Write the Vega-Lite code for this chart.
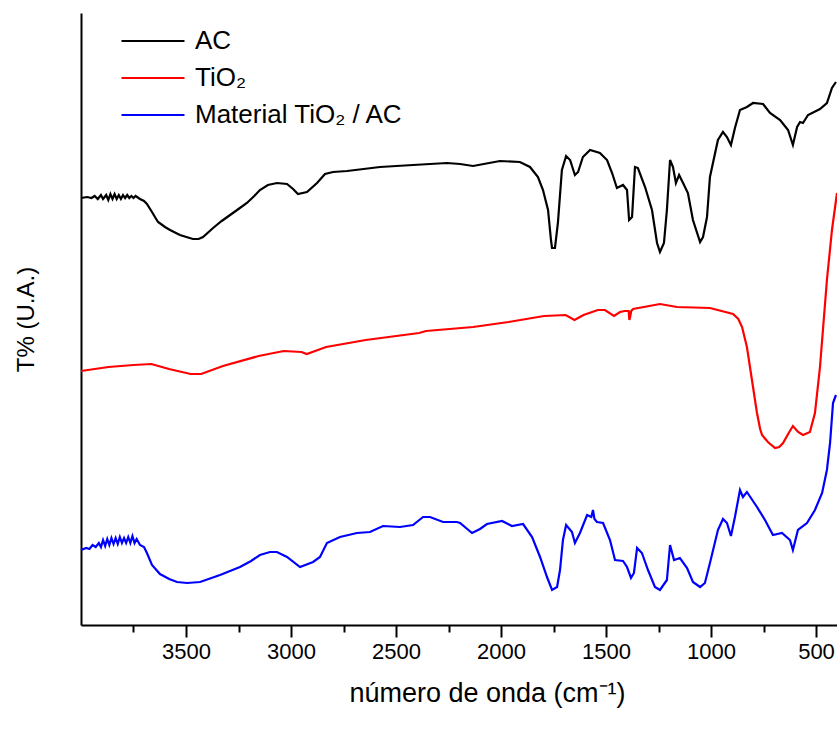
{
  "$schema": "https://vega.github.io/schema/vega-lite/v6.json",
  "width": 756,
  "height": 612,
  "autosize": {"type": "none"},
  "padding": {"left": 81, "top": 13, "right": 0, "bottom": 106},
  "config": {
    "view": {"stroke": null},
    "font": "Liberation Sans"
  },
  "data": {
    "values": [
      {"s": "AC", "wn": 4000, "t": 427}, {"s": "AC", "wn": 3970, "t": 428}, {"s": "AC", "wn": 3950, "t": 427}, {"s": "AC", "wn": 3935, "t": 429},
      {"s": "AC", "wn": 3920, "t": 426}, {"s": "AC", "wn": 3905, "t": 430}, {"s": "AC", "wn": 3895, "t": 426}, {"s": "AC", "wn": 3880, "t": 430},
      {"s": "AC", "wn": 3870, "t": 425}, {"s": "AC", "wn": 3860, "t": 431}, {"s": "AC", "wn": 3850, "t": 426}, {"s": "AC", "wn": 3840, "t": 431},
      {"s": "AC", "wn": 3830, "t": 426}, {"s": "AC", "wn": 3820, "t": 430}, {"s": "AC", "wn": 3810, "t": 426}, {"s": "AC", "wn": 3800, "t": 430},
      {"s": "AC", "wn": 3790, "t": 427}, {"s": "AC", "wn": 3780, "t": 430}, {"s": "AC", "wn": 3770, "t": 427}, {"s": "AC", "wn": 3760, "t": 429},
      {"s": "AC", "wn": 3750, "t": 427}, {"s": "AC", "wn": 3740, "t": 429},
      {"s": "AC", "wn": 3719, "t": 426}, {"s": "AC", "wn": 3700, "t": 424}, {"s": "AC", "wn": 3686, "t": 421}, {"s": "AC", "wn": 3662, "t": 413}, {"s": "AC", "wn": 3645, "t": 407}, {"s": "AC", "wn": 3633, "t": 403},
      {"s": "AC", "wn": 3600, "t": 398}, {"s": "AC", "wn": 3576, "t": 395}, {"s": "AC", "wn": 3529, "t": 390}, {"s": "AC", "wn": 3467, "t": 386}, {"s": "AC", "wn": 3440, "t": 386}, {"s": "AC", "wn": 3419, "t": 388},
      {"s": "AC", "wn": 3371, "t": 397}, {"s": "AC", "wn": 3330, "t": 404}, {"s": "AC", "wn": 3290, "t": 410}, {"s": "AC", "wn": 3250, "t": 416}, {"s": "AC", "wn": 3210, "t": 422}, {"s": "AC", "wn": 3175, "t": 429}, {"s": "AC", "wn": 3148, "t": 435},
      {"s": "AC", "wn": 3110, "t": 440}, {"s": "AC", "wn": 3067, "t": 442}, {"s": "AC", "wn": 3019, "t": 441}, {"s": "AC", "wn": 2990, "t": 436}, {"s": "AC", "wn": 2967, "t": 431},
      {"s": "AC", "wn": 2924, "t": 433}, {"s": "AC", "wn": 2876, "t": 442}, {"s": "AC", "wn": 2838, "t": 451}, {"s": "AC", "wn": 2800, "t": 453}, {"s": "AC", "wn": 2733, "t": 454},
      {"s": "AC", "wn": 2576, "t": 458}, {"s": "AC", "wn": 2419, "t": 460}, {"s": "AC", "wn": 2257, "t": 462}, {"s": "AC", "wn": 2195, "t": 461},
      {"s": "AC", "wn": 2133, "t": 459}, {"s": "AC", "wn": 2005, "t": 464}, {"s": "AC", "wn": 1910, "t": 463}, {"s": "AC", "wn": 1862, "t": 458},
      {"s": "AC", "wn": 1824, "t": 448}, {"s": "AC", "wn": 1800, "t": 435}, {"s": "AC", "wn": 1776, "t": 415}, {"s": "AC", "wn": 1762, "t": 385}, {"s": "AC", "wn": 1757, "t": 377},
      {"s": "AC", "wn": 1743, "t": 377}, {"s": "AC", "wn": 1729, "t": 402}, {"s": "AC", "wn": 1710, "t": 455}, {"s": "AC", "wn": 1690, "t": 469},
      {"s": "AC", "wn": 1671, "t": 465}, {"s": "AC", "wn": 1648, "t": 450}, {"s": "AC", "wn": 1633, "t": 453}, {"s": "AC", "wn": 1610, "t": 468},
      {"s": "AC", "wn": 1576, "t": 475}, {"s": "AC", "wn": 1529, "t": 472}, {"s": "AC", "wn": 1495, "t": 465}, {"s": "AC", "wn": 1471, "t": 452},
      {"s": "AC", "wn": 1448, "t": 437}, {"s": "AC", "wn": 1419, "t": 440}, {"s": "AC", "wn": 1400, "t": 435}, {"s": "AC", "wn": 1390, "t": 405},
      {"s": "AC", "wn": 1376, "t": 408}, {"s": "AC", "wn": 1362, "t": 458}, {"s": "AC", "wn": 1348, "t": 457}, {"s": "AC", "wn": 1314, "t": 438},
      {"s": "AC", "wn": 1281, "t": 415}, {"s": "AC", "wn": 1257, "t": 382}, {"s": "AC", "wn": 1243, "t": 373}, {"s": "AC", "wn": 1224, "t": 382},
      {"s": "AC", "wn": 1210, "t": 415}, {"s": "AC", "wn": 1195, "t": 465}, {"s": "AC", "wn": 1181, "t": 458}, {"s": "AC", "wn": 1167, "t": 442},
      {"s": "AC", "wn": 1152, "t": 450}, {"s": "AC", "wn": 1133, "t": 442}, {"s": "AC", "wn": 1110, "t": 432}, {"s": "AC", "wn": 1086, "t": 405},
      {"s": "AC", "wn": 1052, "t": 383}, {"s": "AC", "wn": 1038, "t": 388}, {"s": "AC", "wn": 1019, "t": 408}, {"s": "AC", "wn": 1005, "t": 448},
      {"s": "AC", "wn": 967, "t": 485}, {"s": "AC", "wn": 943, "t": 493}, {"s": "AC", "wn": 924, "t": 488}, {"s": "AC", "wn": 905, "t": 480},
      {"s": "AC", "wn": 886, "t": 497}, {"s": "AC", "wn": 862, "t": 515}, {"s": "AC", "wn": 829, "t": 518}, {"s": "AC", "wn": 800, "t": 522},
      {"s": "AC", "wn": 752, "t": 521}, {"s": "AC", "wn": 719, "t": 512}, {"s": "AC", "wn": 671, "t": 505}, {"s": "AC", "wn": 633, "t": 495},
      {"s": "AC", "wn": 610, "t": 480}, {"s": "AC", "wn": 590, "t": 498}, {"s": "AC", "wn": 576, "t": 503}, {"s": "AC", "wn": 562, "t": 502},
      {"s": "AC", "wn": 538, "t": 510}, {"s": "AC", "wn": 481, "t": 516}, {"s": "AC", "wn": 448, "t": 522}, {"s": "AC", "wn": 424, "t": 537},
      {"s": "AC", "wn": 405, "t": 543},

      {"s": "TiO₂", "wn": 4000, "t": 254}, {"s": "TiO₂", "wn": 3869, "t": 258}, {"s": "TiO₂", "wn": 3750, "t": 260}, {"s": "TiO₂", "wn": 3665, "t": 261},
      {"s": "TiO₂", "wn": 3581, "t": 256}, {"s": "TiO₂", "wn": 3478, "t": 251}, {"s": "TiO₂", "wn": 3428, "t": 251}, {"s": "TiO₂", "wn": 3324, "t": 259},
      {"s": "TiO₂", "wn": 3154, "t": 269}, {"s": "TiO₂", "wn": 3035, "t": 274}, {"s": "TiO₂", "wn": 2950, "t": 273}, {"s": "TiO₂", "wn": 2925, "t": 271},
      {"s": "TiO₂", "wn": 2833, "t": 278}, {"s": "TiO₂", "wn": 2644, "t": 285}, {"s": "TiO₂", "wn": 2390, "t": 292}, {"s": "TiO₂", "wn": 2357, "t": 294},
      {"s": "TiO₂", "wn": 2133, "t": 298}, {"s": "TiO₂", "wn": 1964, "t": 303}, {"s": "TiO₂", "wn": 1795, "t": 309}, {"s": "TiO₂", "wn": 1692, "t": 310},
      {"s": "TiO₂", "wn": 1650, "t": 305}, {"s": "TiO₂", "wn": 1607, "t": 310}, {"s": "TiO₂", "wn": 1539, "t": 315}, {"s": "TiO₂", "wn": 1505, "t": 315},
      {"s": "TiO₂", "wn": 1462, "t": 309}, {"s": "TiO₂", "wn": 1433, "t": 313}, {"s": "TiO₂", "wn": 1411, "t": 314}, {"s": "TiO₂", "wn": 1392, "t": 314},
      {"s": "TiO₂", "wn": 1389, "t": 305}, {"s": "TiO₂", "wn": 1385, "t": 308}, {"s": "TiO₂", "wn": 1380, "t": 314}, {"s": "TiO₂", "wn": 1371, "t": 316},
      {"s": "TiO₂", "wn": 1243, "t": 321}, {"s": "TiO₂", "wn": 1162, "t": 318}, {"s": "TiO₂", "wn": 1005, "t": 317}, {"s": "TiO₂", "wn": 895, "t": 311},
      {"s": "TiO₂", "wn": 870, "t": 306}, {"s": "TiO₂", "wn": 852, "t": 298}, {"s": "TiO₂", "wn": 829, "t": 278}, {"s": "TiO₂", "wn": 805, "t": 245}, {"s": "TiO₂", "wn": 781, "t": 212},
      {"s": "TiO₂", "wn": 766, "t": 196}, {"s": "TiO₂", "wn": 757, "t": 190}, {"s": "TiO₂", "wn": 729, "t": 183}, {"s": "TiO₂", "wn": 695, "t": 177}, {"s": "TiO₂", "wn": 675, "t": 178}, {"s": "TiO₂", "wn": 657, "t": 182},
      {"s": "TiO₂", "wn": 630, "t": 192}, {"s": "TiO₂", "wn": 610, "t": 199}, {"s": "TiO₂", "wn": 585, "t": 193}, {"s": "TiO₂", "wn": 562, "t": 190}, {"s": "TiO₂", "wn": 529, "t": 193}, {"s": "TiO₂", "wn": 505, "t": 212},
      {"s": "TiO₂", "wn": 481, "t": 258}, {"s": "TiO₂", "wn": 448, "t": 345}, {"s": "TiO₂", "wn": 424, "t": 395}, {"s": "TiO₂", "wn": 400, "t": 432},

      {"s": "Material TiO₂ / AC", "wn": 4000, "t": 75}, {"s": "Material TiO₂ / AC", "wn": 3975, "t": 77}, {"s": "Material TiO₂ / AC", "wn": 3960, "t": 76},
      {"s": "Material TiO₂ / AC", "wn": 3945, "t": 80}, {"s": "Material TiO₂ / AC", "wn": 3930, "t": 78}, {"s": "Material TiO₂ / AC", "wn": 3915, "t": 82},
      {"s": "Material TiO₂ / AC", "wn": 3905, "t": 78}, {"s": "Material TiO₂ / AC", "wn": 3895, "t": 85}, {"s": "Material TiO₂ / AC", "wn": 3885, "t": 79},
      {"s": "Material TiO₂ / AC", "wn": 3875, "t": 86}, {"s": "Material TiO₂ / AC", "wn": 3865, "t": 80}, {"s": "Material TiO₂ / AC", "wn": 3855, "t": 87},
      {"s": "Material TiO₂ / AC", "wn": 3845, "t": 81}, {"s": "Material TiO₂ / AC", "wn": 3835, "t": 87}, {"s": "Material TiO₂ / AC", "wn": 3825, "t": 81},
      {"s": "Material TiO₂ / AC", "wn": 3815, "t": 88}, {"s": "Material TiO₂ / AC", "wn": 3805, "t": 82}, {"s": "Material TiO₂ / AC", "wn": 3795, "t": 87},
      {"s": "Material TiO₂ / AC", "wn": 3785, "t": 82}, {"s": "Material TiO₂ / AC", "wn": 3775, "t": 88}, {"s": "Material TiO₂ / AC", "wn": 3765, "t": 82},
      {"s": "Material TiO₂ / AC", "wn": 3755, "t": 89}, {"s": "Material TiO₂ / AC", "wn": 3745, "t": 82}, {"s": "Material TiO₂ / AC", "wn": 3735, "t": 86},
      {"s": "Material TiO₂ / AC", "wn": 3719, "t": 80}, {"s": "Material TiO₂ / AC", "wn": 3700, "t": 78}, {"s": "Material TiO₂ / AC", "wn": 3686, "t": 72},
      {"s": "Material TiO₂ / AC", "wn": 3662, "t": 60}, {"s": "Material TiO₂ / AC", "wn": 3624, "t": 51}, {"s": "Material TiO₂ / AC", "wn": 3580, "t": 46}, {"s": "Material TiO₂ / AC", "wn": 3543, "t": 43},
      {"s": "Material TiO₂ / AC", "wn": 3495, "t": 42}, {"s": "Material TiO₂ / AC", "wn": 3433, "t": 43}, {"s": "Material TiO₂ / AC", "wn": 3338, "t": 50},
      {"s": "Material TiO₂ / AC", "wn": 3243, "t": 58}, {"s": "Material TiO₂ / AC", "wn": 3190, "t": 64}, {"s": "Material TiO₂ / AC", "wn": 3148, "t": 70}, {"s": "Material TiO₂ / AC", "wn": 3100, "t": 73}, {"s": "Material TiO₂ / AC", "wn": 3067, "t": 73},
      {"s": "Material TiO₂ / AC", "wn": 3019, "t": 68}, {"s": "Material TiO₂ / AC", "wn": 2957, "t": 58}, {"s": "Material TiO₂ / AC", "wn": 2895, "t": 63},
      {"s": "Material TiO₂ / AC", "wn": 2862, "t": 68}, {"s": "Material TiO₂ / AC", "wn": 2829, "t": 82}, {"s": "Material TiO₂ / AC", "wn": 2767, "t": 88},
      {"s": "Material TiO₂ / AC", "wn": 2686, "t": 92}, {"s": "Material TiO₂ / AC", "wn": 2624, "t": 93}, {"s": "Material TiO₂ / AC", "wn": 2562, "t": 99},
      {"s": "Material TiO₂ / AC", "wn": 2481, "t": 98}, {"s": "Material TiO₂ / AC", "wn": 2419, "t": 100}, {"s": "Material TiO₂ / AC", "wn": 2371, "t": 108},
      {"s": "Material TiO₂ / AC", "wn": 2338, "t": 108}, {"s": "Material TiO₂ / AC", "wn": 2276, "t": 103}, {"s": "Material TiO₂ / AC", "wn": 2210, "t": 103},
      {"s": "Material TiO₂ / AC", "wn": 2195, "t": 102}, {"s": "Material TiO₂ / AC", "wn": 2138, "t": 92}, {"s": "Material TiO₂ / AC", "wn": 2100, "t": 96},
      {"s": "Material TiO₂ / AC", "wn": 2067, "t": 101}, {"s": "Material TiO₂ / AC", "wn": 1995, "t": 104}, {"s": "Material TiO₂ / AC", "wn": 1948, "t": 99},
      {"s": "Material TiO₂ / AC", "wn": 1895, "t": 101}, {"s": "Material TiO₂ / AC", "wn": 1852, "t": 88}, {"s": "Material TiO₂ / AC", "wn": 1814, "t": 68},
      {"s": "Material TiO₂ / AC", "wn": 1781, "t": 48}, {"s": "Material TiO₂ / AC", "wn": 1757, "t": 35}, {"s": "Material TiO₂ / AC", "wn": 1733, "t": 38},
      {"s": "Material TiO₂ / AC", "wn": 1719, "t": 55}, {"s": "Material TiO₂ / AC", "wn": 1705, "t": 85}, {"s": "Material TiO₂ / AC", "wn": 1690, "t": 100},
      {"s": "Material TiO₂ / AC", "wn": 1662, "t": 93}, {"s": "Material TiO₂ / AC", "wn": 1648, "t": 82}, {"s": "Material TiO₂ / AC", "wn": 1624, "t": 92},
      {"s": "Material TiO₂ / AC", "wn": 1590, "t": 110}, {"s": "Material TiO₂ / AC", "wn": 1570, "t": 108}, {"s": "Material TiO₂ / AC", "wn": 1562, "t": 115},
      {"s": "Material TiO₂ / AC", "wn": 1555, "t": 106}, {"s": "Material TiO₂ / AC", "wn": 1543, "t": 103}, {"s": "Material TiO₂ / AC", "wn": 1514, "t": 102},
      {"s": "Material TiO₂ / AC", "wn": 1481, "t": 85}, {"s": "Material TiO₂ / AC", "wn": 1457, "t": 65}, {"s": "Material TiO₂ / AC", "wn": 1419, "t": 64},
      {"s": "Material TiO₂ / AC", "wn": 1400, "t": 58}, {"s": "Material TiO₂ / AC", "wn": 1381, "t": 47}, {"s": "Material TiO₂ / AC", "wn": 1367, "t": 52},
      {"s": "Material TiO₂ / AC", "wn": 1352, "t": 77}, {"s": "Material TiO₂ / AC", "wn": 1329, "t": 72}, {"s": "Material TiO₂ / AC", "wn": 1300, "t": 55},
      {"s": "Material TiO₂ / AC", "wn": 1267, "t": 38}, {"s": "Material TiO₂ / AC", "wn": 1243, "t": 35}, {"s": "Material TiO₂ / AC", "wn": 1210, "t": 45},
      {"s": "Material TiO₂ / AC", "wn": 1195, "t": 80}, {"s": "Material TiO₂ / AC", "wn": 1176, "t": 65}, {"s": "Material TiO₂ / AC", "wn": 1148, "t": 67},
      {"s": "Material TiO₂ / AC", "wn": 1114, "t": 57}, {"s": "Material TiO₂ / AC", "wn": 1086, "t": 43}, {"s": "Material TiO₂ / AC", "wn": 1052, "t": 38},
      {"s": "Material TiO₂ / AC", "wn": 1029, "t": 42}, {"s": "Material TiO₂ / AC", "wn": 1005, "t": 62}, {"s": "Material TiO₂ / AC", "wn": 967, "t": 95},
      {"s": "Material TiO₂ / AC", "wn": 943, "t": 106}, {"s": "Material TiO₂ / AC", "wn": 924, "t": 102}, {"s": "Material TiO₂ / AC", "wn": 905, "t": 89},
      {"s": "Material TiO₂ / AC", "wn": 886, "t": 108}, {"s": "Material TiO₂ / AC", "wn": 862, "t": 135}, {"s": "Material TiO₂ / AC", "wn": 848, "t": 128},
      {"s": "Material TiO₂ / AC", "wn": 829, "t": 133}, {"s": "Material TiO₂ / AC", "wn": 781, "t": 118}, {"s": "Material TiO₂ / AC", "wn": 743, "t": 105},
      {"s": "Material TiO₂ / AC", "wn": 705, "t": 90}, {"s": "Material TiO₂ / AC", "wn": 662, "t": 92}, {"s": "Material TiO₂ / AC", "wn": 624, "t": 85},
      {"s": "Material TiO₂ / AC", "wn": 610, "t": 75}, {"s": "Material TiO₂ / AC", "wn": 586, "t": 95}, {"s": "Material TiO₂ / AC", "wn": 543, "t": 102},
      {"s": "Material TiO₂ / AC", "wn": 505, "t": 115}, {"s": "Material TiO₂ / AC", "wn": 471, "t": 132}, {"s": "Material TiO₂ / AC", "wn": 448, "t": 155},
      {"s": "Material TiO₂ / AC", "wn": 433, "t": 182}, {"s": "Material TiO₂ / AC", "wn": 419, "t": 222}, {"s": "Material TiO₂ / AC", "wn": 405, "t": 230}
    ]
  },
  "layer": [
    {
      "mark": {"type": "line", "strokeWidth": 2.2},
      "encoding": {
        "x": {
          "field": "wn",
          "type": "quantitative",
          "scale": {"domain": [4000, 400], "nice": false, "zero": false},
          "axis": {
            "zindex": 1,
            "values": [3500, 3000, 2500, 2000, 1500, 1000, 500],
            "format": "d",
            "grid": false,
            "domainColor": "black",
            "domainWidth": 2,
            "tickColor": "black",
            "tickWidth": 2,
            "tickSize": 12,
            "labelFont": "Liberation Sans",
            "labelFontSize": 22,
            "labelColor": "black",
            "labelPadding": 4,
            "labelFlush": false,
            "title": "número de onda (cm⁻¹)",
            "titleFont": "Liberation Sans",
            "titleFontSize": 27,
            "titleFontWeight": "normal",
            "titleColor": "black",
            "titleX": 406,
            "titleY": 76,
            "titleAlign": "center",
            "titleBaseline": "alphabetic"
          }
        },
        "y": {
          "field": "t",
          "type": "quantitative",
          "scale": {"domain": [0, 612], "nice": false, "zero": false},
          "axis": {
            "ticks": false,
            "labels": false,
            "grid": false,
            "domainColor": "black",
            "domainWidth": 2,
            "title": "T% (U.A.)",
            "titleFont": "Liberation Sans",
            "titleFontSize": 24,
            "titleFontWeight": "normal",
            "titleColor": "black",
            "titlePadding": 43
          }
        },
        "color": {
          "field": "s",
          "type": "nominal",
          "scale": {
            "domain": ["AC", "TiO₂", "Material TiO₂ / AC"],
            "range": ["#000000", "#ff0000", "#0000ff"]
          },
          "legend": {
            "title": null,
            "orient": "none",
            "legendX": 59,
            "legendY": 15,
            "padding": 0,
            "symbolType": "M-3,0H3",
            "symbolSize": 441,
            "symbolStrokeWidth": 2,
            "rowPadding": 11,
            "labelFont": "Liberation Sans",
            "labelFontSize": 26,
            "labelColor": "black",
            "labelOffset": 29,
            "labelLimit": 400
          }
        }
      }
    },
    {
      "mark": {"type": "point", "opacity": 0},
      "encoding": {
        "x": {
          "field": "wn",
          "type": "quantitative",
          "scale": {"domain": [4000, 400], "nice": false, "zero": false},
          "axis": {
            "zindex": 1,
            "orient": "bottom",
            "values": [3750, 3250, 2750, 2250, 1750, 1250, 750],
            "grid": false,
            "domain": false,
            "labels": false,
            "tickColor": "black",
            "tickWidth": 2,
            "tickSize": 7,
            "title": null
          }
        }
      }
    }
  ],
  "resolve": {"axis": {"x": "independent"}}
}
